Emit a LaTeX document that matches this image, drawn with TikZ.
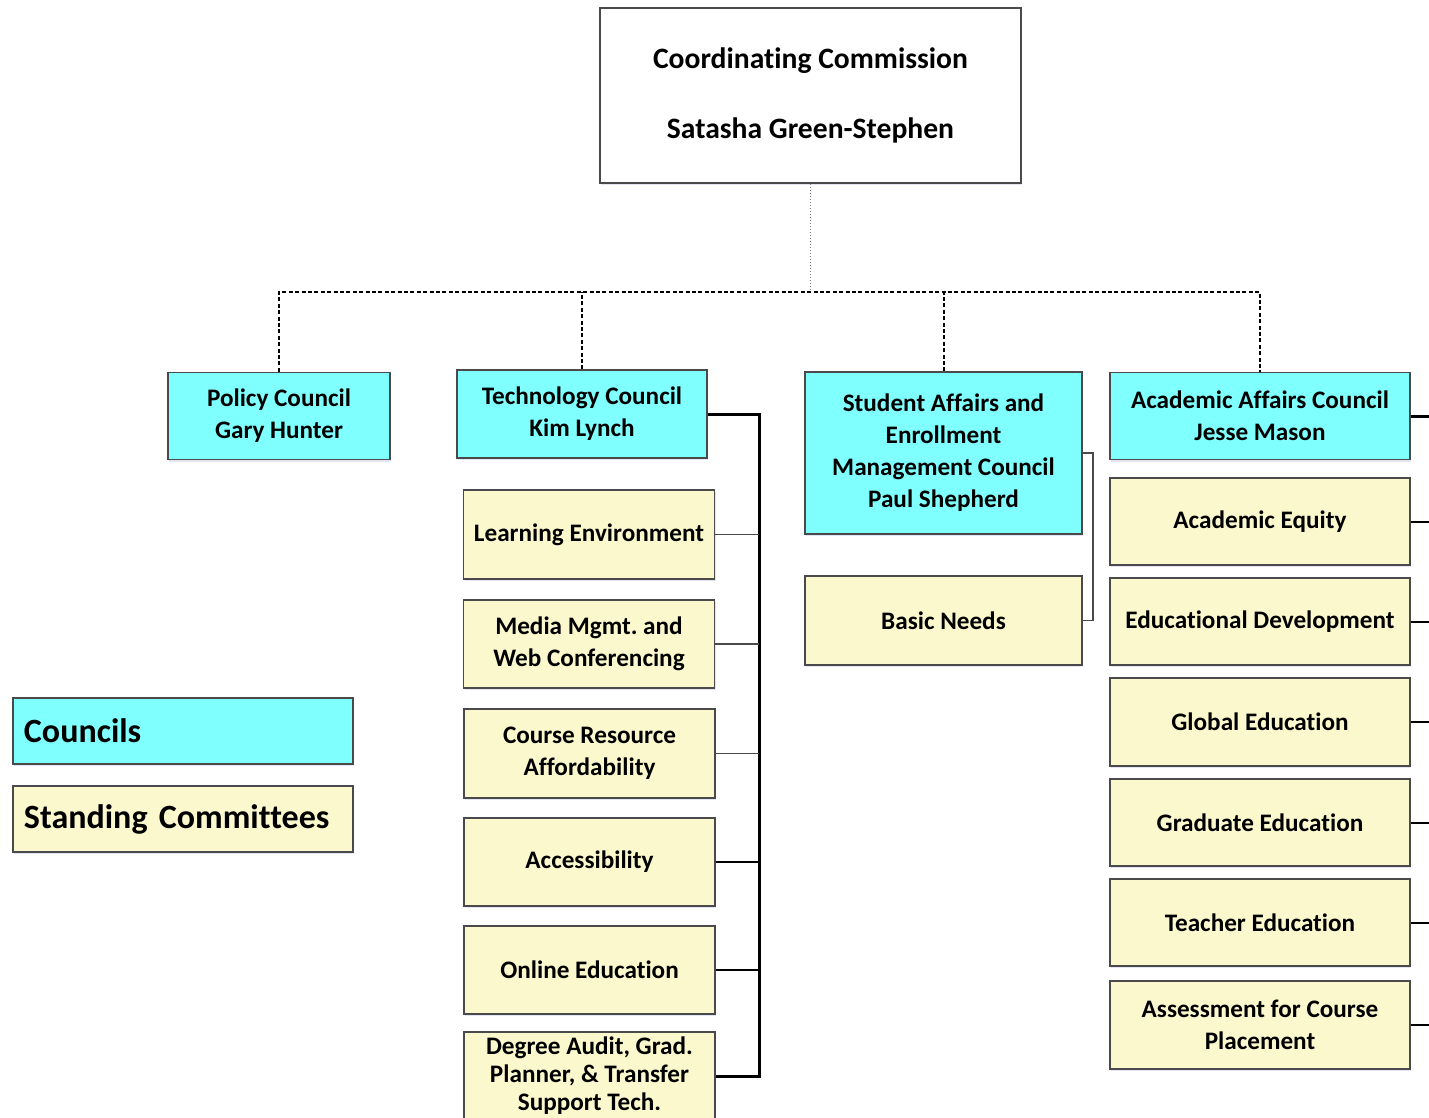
\documentclass[tikz,border=0pt]{standalone}
\usepackage{fontspec}
\setmainfont{Carlito}[Ligatures=NoCommon]
\usepackage{xcolor}
\usepackage{tikz}
\usetikzlibrary{positioning,shadows}
\definecolor{council}{HTML}{80FFFF}
\definecolor{committee}{HTML}{FCF8CE}
\definecolor{edge}{HTML}{4A4A4A}
\tikzset{
  Box/.style={
    draw=edge, line width=0.7pt, align=center, inner sep=2pt,
    font=\fontsize{12.6}{16}\selectfont\bfseries,
    drop shadow={shadow xshift=0.5pt, shadow yshift=-1.2pt, opacity=0.15, fill=blue!40!gray}
  },
  CouncilBox/.style={Box, fill=council, minimum width=#1},
  CommBox/.style={Box, fill=committee, minimum width=#1},
  LegendBox/.style={
    Box, minimum height=33pt, text width=159pt, inner xsep=5.5pt,
    align=left, font=\fontsize{17}{20}\selectfont\bfseries
  },
  Bus/.style={line width=1.5pt, black},
  Twig/.style={line width=0.6pt, edge},
  MidTwig/.style={line width=1pt, black},
  DashBus/.style={line width=1pt, black, dash pattern=on 2pt off 1.2pt}
}

\begin{document}
\begin{tikzpicture}[x=0.5pt, y=-0.5pt, line cap=butt, line join=miter]
  \useasboundingbox (0,0) rectangle (1429,1118);

  % commission on top
  \node[Box, fill=white, minimum width=210.5pt, minimum height=87.5pt,
        font=\fontsize{14.8}{16}\selectfont\bfseries, drop shadow={opacity=0}]
    (comm) at (810.5,95.5) {Coordinating Commission\\[19pt]Satasha Green-Stephen};
  \coordinate (hub) at (810.5,292);

  % councils
  \node[CouncilBox=111pt, minimum height=43.5pt] (policy) at (279,416) {Policy Council\\Gary Hunter};
  \node[CouncilBox=125pt, minimum height=44pt] (tech) at (582,414) {Technology Council\\Kim Lynch};
  \node[CouncilBox=138.5pt, minimum height=81pt] (student) at (943.5,453)
    {Student Affairs and\\Enrollment\\Management Council\\Paul Shepherd};
  \node[CouncilBox=150pt, minimum height=43.5pt] (academic) at (1260,416) {Academic Affairs Council\\Jesse Mason};

  % technology committees
  \node[CommBox=125.5pt, minimum height=44.5pt] (learn) at (589,534.5) {Learning Environment};
  \node[CommBox=125.5pt, minimum height=44pt] (media) at (589,644) {Media Mgmt.\ and\\Web Conferencing};
  \node[CommBox=125.5pt, minimum height=44.5pt] (course) at (589.5,753.5) {Course Resource\\Affordability};
  \node[CommBox=125.5pt, minimum height=44pt] (access) at (589.5,862) {Accessibility};
  \node[CommBox=125.5pt, minimum height=44pt] (online) at (589.5,970) {Online Education};
  \node[CommBox=125.5pt, minimum height=44pt, font=\fontsize{12.6}{14}\selectfont\bfseries]
    (degree) at (589.5,1076) {Degree Audit, Grad.\\Planner, \& Transfer\\Support Tech.};

  % student affairs committee
  \node[CommBox=138.5pt, minimum height=44.5pt] (basic) at (943.5,620.5) {Basic Needs};

  % academic committees
  \node[CommBox=150pt, minimum height=43.5pt] (equity) at (1260,521.5) {Academic Equity};
  \node[CommBox=150pt, minimum height=43.5pt] (edudev) at (1260,621.5) {Educational Development};
  \node[CommBox=150pt, minimum height=44pt] (global) at (1260,722) {Global Education};
  \node[CommBox=150pt, minimum height=43.5pt] (grad) at (1260,822.5) {Graduate Education};
  \node[CommBox=150pt, minimum height=43.5pt] (teacher) at (1260,922.5) {Teacher Education};
  \node[CommBox=150pt, minimum height=44pt] (assess) at (1260,1025) {Assessment for Course\\Placement};

  % legend
  \node[LegendBox, fill=council] (legcouncil) at (183,731) {Councils};
  \node[LegendBox, fill=committee] (legcomm) at (183,819) {Standing Committees};

  % commission to councils
  \draw[densely dotted, gray, line width=0.5pt] (comm.south) -- (hub);
  \draw[DashBus] (policy.north) -- (policy.north |- hub) -- (academic.north |- hub) -- (academic.north);
  \foreach \n in {tech,student}
    \draw[DashBus] (\n.north) -- (\n.north |- hub);

  % technology bus
  \coordinate (tbus) at (759,0);
  \draw[Bus] (tech.east) -- (tech.east -| tbus) -- (degree.east -| tbus) -- (degree.east);
  \foreach \n in {learn,media,course}
    \draw[Twig] (\n.east) -- (\n.east -| tbus);
  \foreach \n in {access,online}
    \draw[MidTwig] (\n.east) -- (\n.east -| tbus);

  % student affairs bracket
  \coordinate (sbus) at (1093,0);
  \draw[Twig] (student.east) -- (student.east -| sbus) -- (basic.east -| sbus) -- (basic.east);

  % academic bus (runs off the right edge)
  \coordinate (abus) at (1445,0);
  \draw[Bus] (academic.east) -- (academic.east -| abus) -- (assess.east -| abus);
  \foreach \n in {equity,edudev,global,grad,teacher,assess}
    \draw[MidTwig] (\n.east) -- (\n.east -| abus);
\end{tikzpicture}
\end{document}
